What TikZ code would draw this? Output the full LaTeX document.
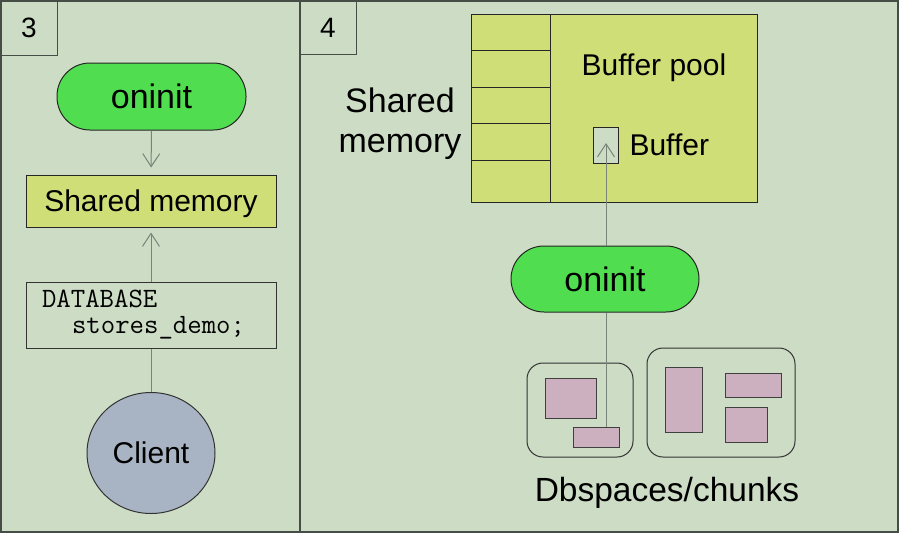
\documentclass[tikz,border=0pt]{standalone}
\usepackage{fontspec}
\setmainfont{Liberation Sans}
\usetikzlibrary{arrows.meta,shapes.geometric}
\definecolor{bgc}{RGB}{205,220,196}
\definecolor{greenc}{RGB}{80,222,80}
\definecolor{yelc}{RGB}{208,222,120}
\definecolor{clientc}{RGB}{168,180,196}
\definecolor{pinkc}{RGB}{204,176,192}
\definecolor{linec}{RGB}{120,132,120}
\definecolor{framec}{RGB}{70,76,70}
\tikzset{
  box/.style={draw=black!85, line width=1pt, inner sep=0pt},
  onbox/.style={box, fill=greenc, rounded corners=33pt, font=\fontsize{34}{40}\selectfont},
  lblbox/.style={box, draw=framec, minimum width=56pt, minimum height=54pt, font=\fontsize{28}{32}\selectfont},
  conn/.style={draw=linec, line width=1pt},
  tip/.style={conn, -{Straight Barb[length=13pt,width=17pt,line width=1pt]}},
  chunk/.style={box, draw=black!75, fill=pinkc},
  dbsp/.style={draw=black!80, line width=1pt, rounded corners=16pt},
  big/.style={font=\fontsize{30}{36}\selectfont, text depth=0pt},
}
\begin{document}
\begin{tikzpicture}[x=1pt,y=-1pt]
\fill[bgc] (0,0) rectangle (899,533);
\useasboundingbox (0,0) rectangle (899,533);
\draw[framec, line width=1.5pt] (1,1) rectangle (898,532);
\draw[framec, line width=1.5pt] (300,1) -- (300,532);
% panel 3
\node[lblbox] (l3) at (29,28) {3};
\node[onbox, minimum width=189pt, minimum height=67pt] (on1) at (151.5,96.5) {oninit};
\node[box, fill=yelc, minimum width=250pt, minimum height=52pt, big] (sm1) at (151,201) {Shared memory};
\node[box, draw=black!80, minimum width=250pt, minimum height=66pt, inner xsep=16pt, text width=218pt, align=left,
  font=\ttfamily\fontsize{28}{26}\selectfont] (db) at (151,315) {DATABASE\\\hspace*{30pt}stores\_demo;};
\node[ellipse, box, draw=black!80, fill=clientc, minimum width=128pt, minimum height=121pt, big] (cl) at (151,453) {Client};
\draw[tip, shorten >=7pt] (on1.south) -- (sm1.north);
\draw[tip, shorten >=5pt] (db.north) -- (sm1.south);
\draw[conn] (cl.north) -- (db.south);
% panel 4
\node[lblbox] (l4) at (328,27.5) {4};
\node[box, fill=yelc, minimum width=286pt, minimum height=188pt] (bp) at (614,108) {};
\draw[line width=1pt, black!85] (550,14) -- (550,202);
\foreach \yy in {50,87,123,160} \draw[line width=1pt, black!85] (471,\yy) -- (550,\yy);
\node[big] (bpt) at (654,65) {Buffer pool};
\node[box, draw=black!85, fill=bgc, minimum width=25pt, minimum height=36pt] (buf) at (605.5,145) {};
\node[big, anchor=west] (buft) at (626,145) {Buffer};
\node[align=center, font=\fontsize{34}{40}\selectfont] (smt) at (400,123.5) {Shared\\memory};
\node[onbox, minimum width=188pt, minimum height=66pt] (on2) at (605,279) {oninit};
\draw[dbsp] (527,363) rectangle (633,457);
\draw[dbsp] (647,348) rectangle (795,457);
\node[chunk, minimum width=51pt, minimum height=40pt] (cA) at (570.5,398) {};
\node[chunk, minimum width=46pt, minimum height=20pt] (cB) at (596,437) {};
\node[chunk, minimum width=37pt, minimum height=65pt] (cC) at (683.5,399.5) {};
\node[chunk, minimum width=56pt, minimum height=24pt] (cD) at (753,385) {};
\node[chunk, minimum width=42pt, minimum height=35pt] (cE) at (746,424.5) {};
\coordinate (lb) at (606,427);
\draw[conn] (lb) -- (lb |- on2.south);
\draw[tip] (lb |- on2.north) -- (606,143);
\node[font=\fontsize{33.5}{40}\selectfont, text depth=0pt] (dbt) at (667,489) {Dbspaces/chunks};
\end{tikzpicture}
\end{document}
